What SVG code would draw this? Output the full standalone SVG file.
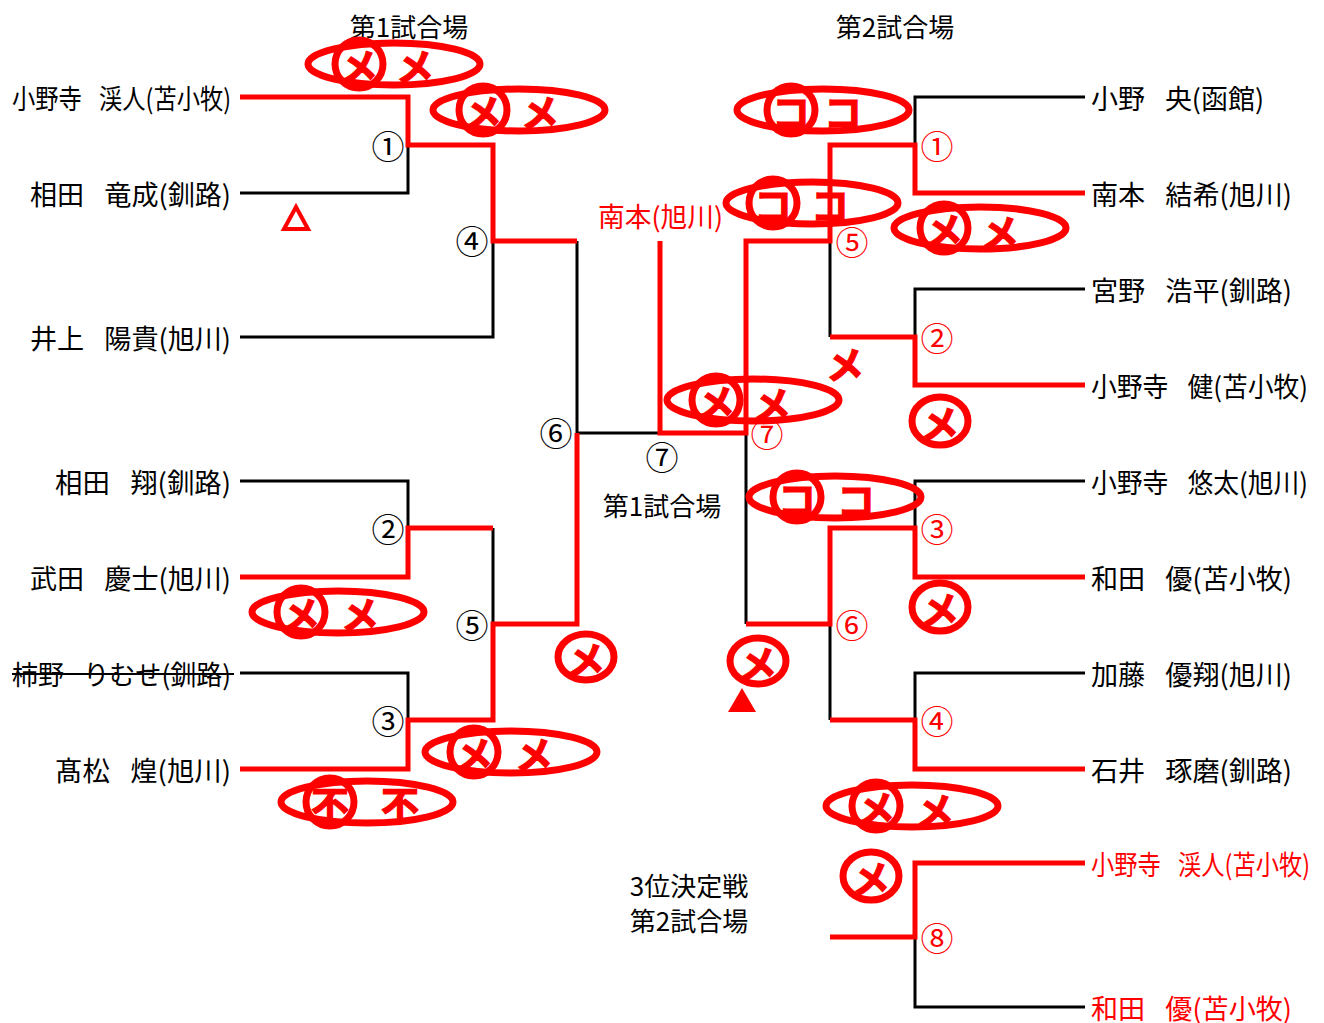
<svg xmlns="http://www.w3.org/2000/svg" width="1324" height="1023" viewBox="0 0 1324 1023">
<style>
text{font-family:"Noto Sans CJK JP","Noto Sans CJK SC",sans-serif;dominant-baseline:central}
.nm{font-size:27px;fill:#000;word-spacing:14px}
.tt{font-size:26px;fill:#000}
.l{text-anchor:end}
.c{text-anchor:middle}
.r{fill:#f00}
.num{font-size:33px;text-anchor:middle}
.bk{stroke:#000;stroke-width:3;fill:none}
.rd{stroke:#f00;stroke-width:5;fill:none}
.ov{stroke:#f00;stroke-width:7;fill:none}
.mk{font-size:38px;font-weight:bold;fill:#f00;stroke:#f00;stroke-width:1.2;text-anchor:middle}
</style>
<rect width="1324" height="1023" fill="#fff"/>

<g id="titles">
<text class="tt c" x="409" y="25">第1試合場</text>
<text class="tt c" x="895" y="25">第2試合場</text>
<text class="tt c" x="662" y="504">第1試合場</text>
<text class="tt c" x="689" y="884">3位決定戦</text>
<text class="tt c" x="689" y="919">第2試合場</text>
</g>

<g id="connectors">
<path class="bk" d="M240,193H408V145M240,337H493V241M577,241V433H660M240,481H408V528M493,528V624M240,673H408V720"/>
<path class="bk" d="M1085,97H915V145M1085,289H915V337M830,241V337M1085,481H915V528M1085,673H915V720M830,624V720M746,433V624M1085,1007H915V937"/>
<path class="rd" d="M240,97H408V145H493V241H577"/>
<path class="rd" d="M240,577H408V528H493"/>
<path class="rd" d="M240,769H408V720H493V624H577V433"/>
<path class="rd" d="M660,241V433H746V241H830V145H915V193H1085"/>
<path class="rd" d="M830,337H915V385H1085"/>
<path class="rd" d="M746,624H830V528H915V577H1085"/>
<path class="rd" d="M830,720H915V769H1085"/>
<path class="rd" d="M830,937H915V863H1085"/>
</g>

<g id="left-players">
<g id="p-onodera-keito"><text class="nm l" x="231" y="97" textLength="219" lengthAdjust="spacingAndGlyphs">小野寺 渓人(苫小牧)</text></g>
<g id="p-aida-ryusei"><text class="nm l" x="231" y="193" textLength="201" lengthAdjust="spacingAndGlyphs">相田 竜成(釧路)</text></g>
<g id="p-inoue"><text class="nm l" x="231" y="337" textLength="201" lengthAdjust="spacingAndGlyphs">井上 陽貴(旭川)</text></g>
<g id="p-aida-sho"><text class="nm l" x="231" y="481" textLength="176" lengthAdjust="spacingAndGlyphs">相田 翔(釧路)</text></g>
<g id="p-takeda"><text class="nm l" x="231" y="577" textLength="201" lengthAdjust="spacingAndGlyphs">武田 慶士(旭川)</text></g>
<g id="p-kakino"><text class="nm l" x="231" y="673" textLength="219" lengthAdjust="spacingAndGlyphs">柿野 りむせ(釧路)</text><line x1="12" y1="674" x2="234" y2="674" stroke="#000" stroke-width="2"/></g>
<g id="p-takamatsu"><text class="nm l" x="231" y="769" textLength="176" lengthAdjust="spacingAndGlyphs">髙松 煌(旭川)</text></g>
</g>

<g id="right-players">
<g id="p-ono"><text class="nm" x="1091" y="97" textLength="173" lengthAdjust="spacingAndGlyphs">小野 央(函館)</text></g>
<g id="p-minamimoto"><text class="nm" x="1091" y="193" textLength="201" lengthAdjust="spacingAndGlyphs">南本 結希(旭川)</text></g>
<g id="p-miyano"><text class="nm" x="1091" y="289" textLength="201" lengthAdjust="spacingAndGlyphs">宮野 浩平(釧路)</text></g>
<g id="p-onodera-ken"><text class="nm" x="1091" y="385" textLength="217" lengthAdjust="spacingAndGlyphs">小野寺 健(苫小牧)</text></g>
<g id="p-onodera-yuta"><text class="nm" x="1091" y="481" textLength="217" lengthAdjust="spacingAndGlyphs">小野寺 悠太(旭川)</text></g>
<g id="p-wada"><text class="nm" x="1091" y="577" textLength="201" lengthAdjust="spacingAndGlyphs">和田 優(苫小牧)</text></g>
<g id="p-kato"><text class="nm" x="1091" y="673" textLength="201" lengthAdjust="spacingAndGlyphs">加藤 優翔(旭川)</text></g>
<g id="p-ishii"><text class="nm" x="1091" y="769" textLength="201" lengthAdjust="spacingAndGlyphs">石井 琢磨(釧路)</text></g>
<g id="p-3rd-a"><text class="nm r" x="1091" y="863" textLength="219" lengthAdjust="spacingAndGlyphs">小野寺 渓人(苫小牧)</text></g>
<g id="p-3rd-b"><text class="nm r" x="1091" y="1007" textLength="201" lengthAdjust="spacingAndGlyphs">和田 優(苫小牧)</text></g>
<g id="p-final-left"><text class="nm r" x="598" y="215" textLength="125" lengthAdjust="spacingAndGlyphs">南本(旭川)</text></g>
</g>

<g id="match-numbers">
<text class="num" x="388" y="145">①</text>
<text class="num" x="472" y="240">④</text>
<text class="num" x="556" y="432">⑥</text>
<text class="num" x="388" y="528">②</text>
<text class="num" x="472" y="624">⑤</text>
<text class="num" x="388" y="720">③</text>
<text class="num" x="662" y="456">⑦</text>
<text class="num r" x="937" y="145">①</text>
<text class="num r" x="852" y="241">⑤</text>
<text class="num r" x="937" y="337">②</text>
<text class="num r" x="767" y="433">⑦</text>
<text class="num r" x="937" y="528">③</text>
<text class="num r" x="852" y="624">⑥</text>
<text class="num r" x="937" y="720">④</text>
<text class="num r" x="937" y="937">⑧</text>
</g>

<g id="marks">
<g id="m1"><ellipse class="ov" cx="394" cy="64" rx="86" ry="21"/><circle class="ov" cx="359" cy="64" r="24"/><text class="mk" x="359" y="64">メ</text><text class="mk" x="415" y="64">メ</text></g>
<g id="m2"><ellipse class="ov" cx="519" cy="110" rx="86" ry="21"/><circle class="ov" cx="483" cy="110" r="24"/><text class="mk" x="483" y="110">メ</text><text class="mk" x="540" y="110">メ</text></g>
<g id="m3"><ellipse class="ov" cx="823" cy="110" rx="86" ry="21"/><circle class="ov" cx="791" cy="110" r="24"/><text class="mk" x="791" y="110">コ</text><text class="mk" x="843" y="110">コ</text></g>
<g id="m4"><ellipse class="ov" cx="812" cy="203" rx="86" ry="21"/><circle class="ov" cx="773" cy="203" r="24"/><text class="mk" x="773" y="203">コ</text><text class="mk" x="830" y="203">コ</text></g>
<g id="m5"><ellipse class="ov" cx="980" cy="228" rx="86" ry="21"/><circle class="ov" cx="944" cy="228" r="24"/><text class="mk" x="944" y="228">メ</text><text class="mk" x="1000" y="230">メ</text></g>
<g id="m6"><ellipse class="ov" cx="753" cy="400" rx="86" ry="21"/><circle class="ov" cx="716" cy="400" r="24"/><text class="mk" x="716" y="400">メ</text><text class="mk" x="772" y="402">メ</text></g>
<g id="m7"><text class="mk" x="845" y="362">メ</text></g>
<g id="m8"><ellipse class="ov" cx="940" cy="421" rx="28" ry="24"/><text class="mk" x="940" y="421">メ</text></g>
<g id="m9"><ellipse class="ov" cx="835" cy="497" rx="86" ry="21"/><circle class="ov" cx="797" cy="497" r="24"/><text class="mk" x="797" y="497">コ</text><text class="mk" x="856" y="498">コ</text></g>
<g id="m10"><ellipse class="ov" cx="940" cy="607" rx="28" ry="24"/><text class="mk" x="940" y="607">メ</text></g>
<g id="m11"><ellipse class="ov" cx="338" cy="612" rx="86" ry="21"/><circle class="ov" cx="301" cy="612" r="24"/><text class="mk" x="301" y="612">メ</text><text class="mk" x="360" y="612">メ</text></g>
<g id="m12"><ellipse class="ov" cx="586" cy="657" rx="28" ry="23"/><text class="mk" x="586" y="657">メ</text></g>
<g id="m13"><ellipse class="ov" cx="758" cy="661" rx="28" ry="23"/><text class="mk" x="758" y="661">メ</text><polygon points="742,688 728,712 756,712" fill="#f00"/></g>
<g id="m14"><ellipse class="ov" cx="511" cy="752" rx="86" ry="21"/><circle class="ov" cx="474" cy="752" r="24"/><text class="mk" x="474" y="752">メ</text><text class="mk" x="534" y="752">メ</text></g>
<g id="m15"><ellipse class="ov" cx="367" cy="802" rx="86" ry="21"/><circle class="ov" cx="330" cy="802" r="24"/><text class="mk" x="330" y="802">不</text><text class="mk" x="400" y="802">不</text></g>
<g id="m16"><ellipse class="ov" cx="912" cy="806" rx="86" ry="21"/><circle class="ov" cx="876" cy="806" r="24"/><text class="mk" x="876" y="806">メ</text><text class="mk" x="935" y="808">メ</text></g>
<g id="m17"><ellipse class="ov" cx="871" cy="876" rx="28" ry="24"/><text class="mk" x="871" y="876">メ</text></g>
<g id="m18"><polygon points="296,207 284,229 308,229" fill="none" stroke="#f00" stroke-width="4"/></g>
</g>
</svg>
